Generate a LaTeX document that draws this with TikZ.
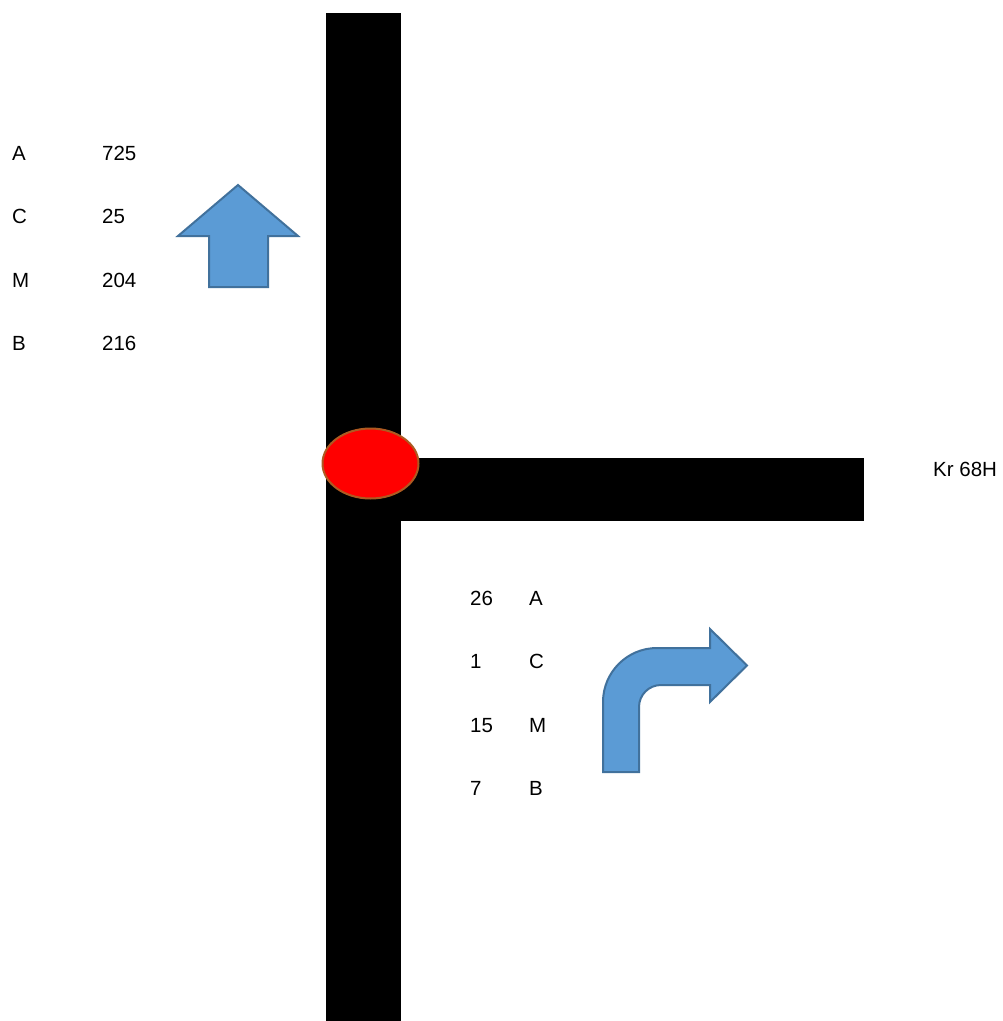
\documentclass[tikz,border=0pt]{standalone}
\usepackage{fontspec}
\setmainfont{Liberation Sans}
\definecolor{arrfill}{HTML}{5B9BD5}
\definecolor{arrline}{HTML}{41719C}
\definecolor{ellline}{HTML}{AE5A21}
\begin{document}
\begin{tikzpicture}[x=1pt,y=1pt,
  lbl/.style={anchor=base west,inner sep=0pt,font=\fontsize{20.5}{24}\selectfont},
  road/.style={fill=black,draw=none},
  arrowshape/.style={fill=arrfill,draw=arrline,line width=2pt,line join=miter}]
\useasboundingbox[fill=white] (0,0) rectangle (1003,-1021);
% roads
\fill[road] (326,-13) rectangle (401,-1021);
\fill[road] (401,-458) rectangle (864,-521);
% junction
\draw[fill=red,draw=ellline,line width=2pt] (370.5,-463.5) ellipse[x radius=48,y radius=35];
% up arrow
\draw[arrowshape] (238,-185) -- (298,-236) -- (268,-236) -- (268,-287) -- (209,-287) -- (209,-236) -- (178,-236) -- cycle;
% bent arrow
\draw[arrowshape] (603,-772) -- (603,-702) arc[start angle=180,end angle=90,radius=54] -- (710,-648) -- (710,-629) -- (747,-665.5) -- (710,-702) -- (710,-685) -- (661,-685) arc[start angle=90,end angle=180,radius=22] -- (639,-772) -- cycle;
% left list
\node[lbl] (la) at (12,-160.5) {A};
\node[lbl] (lc) at (12,-223.5) {C};
\node[lbl] (lm) at (12,-287.5) {M};
\node[lbl] (lb) at (12,-350.5) {B};
\node[lbl] (va) at (102,-160.5) {725};
\node[lbl] (vc) at (102,-223.5) {25};
\node[lbl] (vm) at (102,-287.5) {204};
\node[lbl] (vb) at (102,-350.5) {216};
% right list
\node[lbl] (ra) at (470,-605.5) {26};
\node[lbl] (rc) at (470,-668.5) {1};
\node[lbl] (rm) at (470,-732.5) {15};
\node[lbl] (rb) at (470,-795.5) {7};
\node[lbl] (sa) at (529,-605.5) {A};
\node[lbl] (sc) at (529,-668.5) {C};
\node[lbl] (sm) at (529,-732.5) {M};
\node[lbl] (sb) at (529,-795.5) {B};
% street name
\node[lbl] (kr) at (933,-476) {Kr 68H};
\end{tikzpicture}
\end{document}
